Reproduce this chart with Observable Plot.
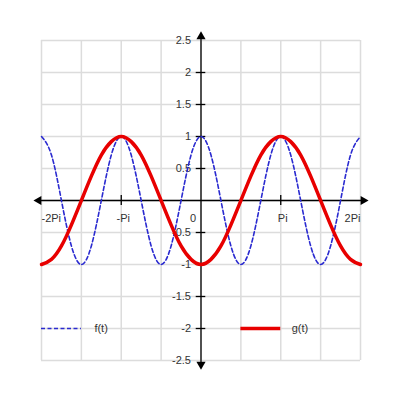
<!DOCTYPE html>
<html><head><meta charset="utf-8">
<script src="https://cdn.jsdelivr.net/npm/d3@7"></script>
<script src="https://cdn.jsdelivr.net/npm/@observablehq/plot@0.6"></script>
<style>body{margin:0;background:#fff}</style>
</head><body><div id="chart"></div>
<script>
// t in units of Pi
const tValues = [-2,-1.875,-1.75,-1.625,-1.5,-1.375,-1.25,-1.125,-1,-0.875,-0.75,-0.625,-0.5,-0.375,-0.25,-0.125,0,0.125,0.25,0.375,0.5,0.625,0.75,0.875,1,1.125,1.25,1.375,1.5,1.625,1.75,1.875,2];
const fValues = [1,0.71,0,-0.71,-1,-0.71,0,0.71,1,0.71,0,-0.71,-1,-0.71,0,0.71,1,0.71,0,-0.71,-1,-0.71,0,0.71,1,0.71,0,-0.71,-1,-0.71,0,0.71,1];
const gValues = [-1,-0.92,-0.71,-0.38,0,0.38,0.71,0.92,1,0.92,0.71,0.38,0,-0.38,-0.71,-0.92,-1,-0.92,-0.71,-0.38,0,0.38,0.71,0.92,1,0.92,0.71,0.38,0,-0.38,-0.71,-0.92,-1];
const seriesNames = ["f(t)","g(t)"];
const xTickValues = [-2,-1,0,1,2];
const xTickLabels = ["-2Pi","-Pi","0","Pi","2Pi"];
const yTickValues = [2.5,2,1.5,1,0.5,-0.5,-1,-1.5,-2,-2.5];
const yTickLabels = ["2.5","2","1.5","1","0.5","-0.5","-1","-1.5","-2","-2.5"];
const gridX = [-2,-1.5,-1,-0.5,0,0.5,1,1.5,2];
const gridY = [-2.5,-2,-1.5,-1,-0.5,0,0.5,1,1.5,2,2.5];

const fData = tValues.map((x,i)=>({x, y:fValues[i]}));
const gData = tValues.map((x,i)=>({x, y:gValues[i]}));
const xLab = xTickValues.map((v,i)=>({x:v, text:xTickLabels[i]}));
const yLab = yTickValues.map((v,i)=>({y:v, text:yTickLabels[i]}));
const blue = "#2a2ad0", red = "#e80000";
const arrows = [
  {x:2.035, y:0, rot:90},
  {x:-2.035, y:0, rot:-90},
  {x:0, y:2.56, rot:0},
  {x:0, y:-2.56, rot:180}
];

const chart = Plot.plot({
  width:400, height:400,
  marginLeft:41, marginRight:40, marginTop:40, marginBottom:40,
  x:{domain:[-2,2], axis:null},
  y:{domain:[-2.5,2.5], axis:null},
  style:{fontFamily:"'Liberation Sans', Arial, sans-serif", fontSize:"11px", color:"#333", background:"#fff"},
  marks:[
    Plot.ruleX(gridX, {x:d=>d, y1:-2.5, y2:2.5, stroke:"#dcdcdc", strokeWidth:1.5, strokeOpacity:1}),
    Plot.ruleY(gridY, {y:d=>d, x1:-2, x2:2, stroke:"#dcdcdc", strokeWidth:1.5, strokeOpacity:1}),
    Plot.ruleY([0], {x1:-2.04, x2:2.04, stroke:"#000", strokeWidth:1.3}),
    Plot.ruleX([0], {y1:-2.55, y2:2.55, stroke:"#000", strokeWidth:1.3}),
    Plot.ruleX(xTickValues.filter(v=>v!==0 && Math.abs(v)<2), {x:d=>d, y1:-0.08, y2:0.08, stroke:"#000", strokeWidth:1.3}),
    Plot.ruleY(yTickValues.filter(v=>Math.abs(v)<2.5), {y:d=>d, x1:-0.06, x2:0.06, stroke:"#000", strokeWidth:1.3}),
    Plot.dot(arrows, {x:"x", y:"y", rotate:"rot", symbol:"triangle", r:3.4, fill:"#000", stroke:null}),
    Plot.text(yLab, {x:0, y:"y", text:"text", textAnchor:"end", dx:-10, fill:"#333"}),
    Plot.text(xLab.slice(0,1), {x:"x", y:0, text:"text", textAnchor:"start", dy:18, fill:"#333"}),
    Plot.text(xLab.slice(1,2).concat(xLab.slice(3,4)), {x:"x", y:0, text:"text", textAnchor:"middle", dx:2, dy:18, fill:"#333"}),
    Plot.text(xLab.slice(2,3), {x:"x", y:0, text:"text", textAnchor:"middle", dx:-8, dy:18, fill:"#333"}),
    Plot.text(xLab.slice(4,5), {x:"x", y:0, text:"text", textAnchor:"end", dy:18, fill:"#333"}),
    // legend
    Plot.ruleY([-2], {x1:-2, x2:-1.5, stroke:blue, strokeWidth:1.6, strokeDasharray:"4,2.5"}),
    Plot.text([seriesNames[0]], {x:-1.5, y:-2, text:d=>d, textAnchor:"start", dx:13, fill:"#333"}),
    Plot.ruleY([-2], {x1:0.5, x2:1, stroke:red, strokeWidth:3.5}),
    Plot.text([seriesNames[1]], {x:1, y:-2, text:d=>d, textAnchor:"start", dx:11, fill:"#333"}),
    // curves
    Plot.line(fData, {x:"x", y:"y", stroke:blue, strokeWidth:1.6, strokeDasharray:"4,2.5", curve:"natural"}),
    Plot.line(gData, {x:"x", y:"y", stroke:red, strokeWidth:3.5, curve:"natural"})
  ]
});
document.getElementById("chart").appendChild(chart);
</script>
</body></html>
